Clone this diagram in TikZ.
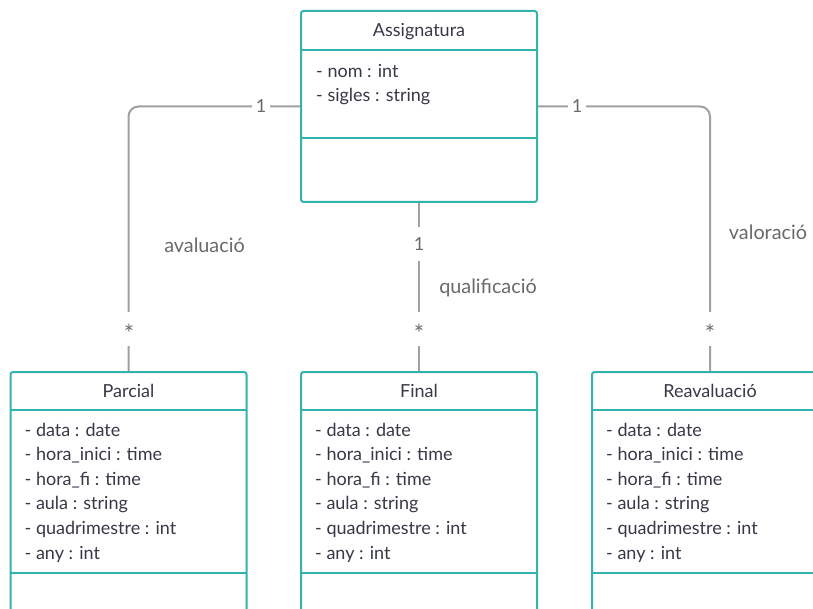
\documentclass[tikz,border=0pt]{standalone}
\usepackage{fontspec}
\setmainfont{Lato}
\usetikzlibrary{positioning}
\definecolor{teal}{HTML}{33B3AE}
\definecolor{ink}{HTML}{383846}
\definecolor{wire}{HTML}{A0A0A0}
\definecolor{note}{HTML}{6A6A6A}
\tikzset{
  classbox/.style={draw=teal, line width=2pt, rounded corners=2.5pt, fill=white,
    minimum width=236pt, inner sep=0pt},
  divider/.style={draw=teal, line width=2pt},
  title/.style={font=\fontsize{18}{21}\selectfont, text=ink, anchor=base, inner sep=0pt},
  attrs/.style={font=\fontsize{18}{24.6}\selectfont, text=ink, align=left,
    anchor=north west, inner sep=0pt},
  conn/.style={draw=wire, line width=2pt, rounded corners=10pt},
  mult/.style={font=\fontsize{18}{21}\selectfont, text=note, fill=white, inner sep=0pt},
  star/.style={mult, minimum width=14pt, minimum height=34pt, text height=0pt, text depth=0pt},
  role/.style={font=\fontsize{19.8}{23}\selectfont, text=note},
}
\newcommand{\attrlist}{- data : date\\- hora\_inici : time\\- hora\_fi : time\\- aula : string\\- quadrimestre : int\\- any : int}
\newcommand{\manystar}{\raisebox{-13.4pt}{\scalebox{1.35}{*}}}
\begin{document}
\begin{tikzpicture}[x=1pt, y=-1pt]
  \clip (0,0) rectangle (813,609);
  \fill[white] (0,0) rectangle (813,609);

  % class Assignatura
  \node[classbox, minimum height=191pt] (asg) at (419,106.5) {};
  \draw[divider] (301,50) -- (537,50);
  \draw[divider] (301,138) -- (537,138);
  \node[title] (asgT) at (419,36.7) {Assignatura};
  \node[attrs] (asgA) at (316,64) {- nom : int\\- sigles : string};

  % lower classes (they run past the bottom edge)
  \foreach \n/\cx/\t in {par/128.5/Parcial, fin/419/Final, rea/710/Reavaluació}{
    \node[classbox, minimum height=280pt, anchor=north] (\n) at (\cx,371) {};
    \draw[divider] ([xshift=1pt]\n.north west |- 0,410) -- ([xshift=-1pt]\n.north east |- 0,410);
    \draw[divider] ([xshift=1pt]\n.north west |- 0,573) -- ([xshift=-1pt]\n.north east |- 0,573);
    \node[title] (\n T) at (\cx,397.3) {\t};
    \node[attrs] (\n A) at ([xshift=15pt]\n.north west |- 0,422.7) {\attrlist};
  }

  % associations
  \draw[conn] (asg.west) -| (par.north);
  \draw[conn] (asg.east) -| (rea.north);
  \draw[conn] (asg.south) -- (fin.north);

  % multiplicities
  \node[mult, minimum width=18pt, minimum height=14pt] (m1) at (261,106.5) {1};
  \node[mult, minimum width=18pt, minimum height=14pt] (m2) at (577,106.5) {1};
  \node[mult, minimum width=14pt, minimum height=34pt] (m3) at (419,244) {1};
  \node[star] (s1) at (129,329) {\manystar};
  \node[star] (s2) at (419,329) {\manystar};
  \node[star] (s3) at (710,329) {\manystar};

  % association names
  \node[role] (r1) at (204.5,245) {avaluació};
  \node[role] (r2) at (488,288) {qualificació};
  \node[role] (r3) at (768,232) {valoració};
\end{tikzpicture}
\end{document}
